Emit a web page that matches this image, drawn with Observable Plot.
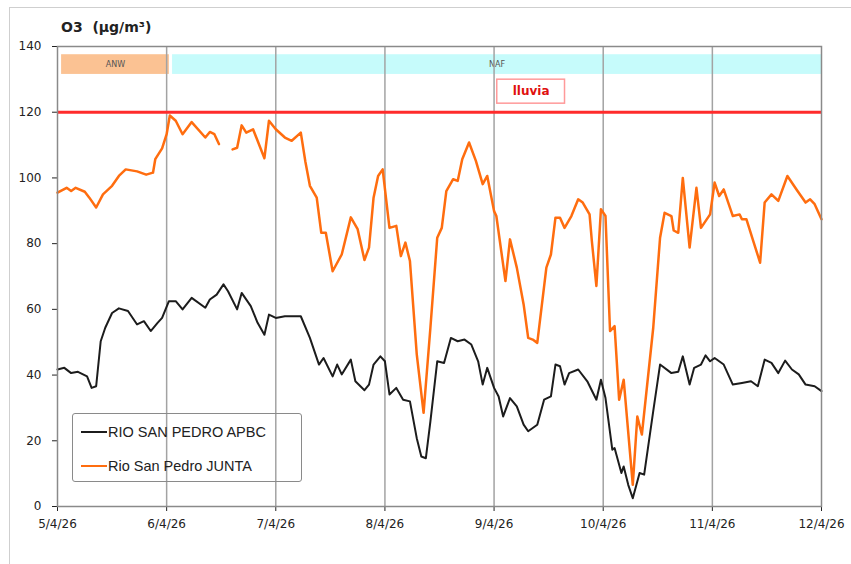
<!DOCTYPE html>
<html>
<head>
<meta charset="utf-8">
<script src="https://cdn.jsdelivr.net/npm/d3@7"></script>
<script src="https://cdn.jsdelivr.net/npm/@observablehq/plot@0.6"></script>
<style>
body{margin:0;background:#fff;}
#wrap{position:relative;width:851px;height:564px;overflow:hidden;font-family:"DejaVu Sans",Verdana,sans-serif;background:#fff;}
#border{position:absolute;left:9px;top:7px;width:870px;height:580px;border:1.5px solid #cfcfcf;}
#title{position:absolute;left:61px;top:19px;font-weight:bold;font-size:14px;color:#222;white-space:pre;}
#chart{position:absolute;left:0;top:0;}
#legend{position:absolute;left:72px;top:413px;width:228px;height:67px;border:1.5px solid #8a8a8a;border-radius:3px;font-family:"Liberation Sans",Arial,sans-serif;font-size:14.5px;color:#222;}
.row{position:absolute;left:8px;height:20px;display:flex;align-items:center;}
.sw{display:inline-block;width:26px;height:0;margin-right:1px;}
</style>
</head>
<body>
<div id="wrap">
  <div id="border"></div>
  <div id="chart"></div>
  <div id="title"></div>
  <div id="legend"></div>
</div>
<script>
// ---- data ----
const startDate = Date.UTC(2026, 3, 5); // 5/4/26
const seriesNames = ["RIO SAN PEDRO APBC", "Rio San Pedro JUNTA"];
const seriesColors = ["#1c1c1c", "#ff6d0f"];
const titleText = "O3  (µg/m³)";
const xTickLabels = ["5/4/26","6/4/26","7/4/26","8/4/26","9/4/26","10/4/26","11/4/26","12/4/26"];
const yTicks = [0,20,40,60,80,100,120,140];
const limitValue = 120;

// hours since 5/4/26 00:00
const apbcHours = [0,1.5,3,4.5,6.5,7.5,8.5,9.5,10.5,12,13.5,15.5,17.5,19,20.5,22,23,24.5,26,27.5,29.5,32.5,33.5,35,36.5,37.5,39.5,40.5,42.5,44,45.5,46.5,48,50,53.5,55.5,57.5,58.5,60.5,61.5,62.5,64.5,65.5,67.5,68.5,69.5,71,72,73,74.5,76,77.5,79,80,81,82,83.5,85,86.5,88,89.5,91,92.5,93.5,94.5,96,97,98,99.5,101,102.5,103.5,105.5,107,108.5,109.5,110.5,111.5,112.5,114.5,116.5,118.5,119.5,120.5,122,122.5,124,124.5,125.5,126.5,128,129,131,132.5,135,136.5,137.5,139,140,141.5,142.5,143.5,144.5,146.5,148.5,150.5,152.5,154,155.5,157,158.5,160,161.5,163,164.5,166.5,168];
const apbcValues = [41.7,42.2,40.6,41,39.6,36.1,36.6,50.3,54.4,58.9,60.3,59.5,55.4,56.4,53.4,55.9,57.4,62.5,62.5,60,63.5,60.5,63,64.5,67.6,65.5,60,65,61,55.9,52.3,58.4,57.4,57.9,57.9,51.3,43.2,45.2,39.6,43.2,40.2,44.7,38.1,35.4,37.1,43.2,45.7,44.2,34.1,36.1,32.5,32,20.8,15.2,14.7,25.9,44.2,43.7,51.3,50.3,50.8,49.3,44.2,37.1,42.2,36.1,33.5,27.4,33,30.5,24.9,22.9,24.9,32.5,33.5,43.2,42.7,37.1,40.6,41.7,38.1,32.5,38.6,33,17.3,17.8,10.2,12.2,6.6,2.5,10.2,9.7,29,43.2,40.6,41,45.7,37.1,42.2,43.2,46,44.2,45.2,43.2,37.1,37.6,38.1,36.6,44.7,43.7,40.6,44.4,41.7,40.2,37.1,36.6,35.1];

const juntaHours = [0,2,3,4,6,7,8.5,10,12,13.5,15,17.5,19.5,21,21.5,23,24,24.7,26,27.5,29.5,32.5,33.5,34.5,35.5,37,38.5,39.5,40.5,41.5,43,44,45.5,46.5,48,50,51.5,53.5,54.5,55.5,57,58,59,60.5,62.5,64.5,66,67.5,68.5,69.5,70.5,71.5,73,74.5,75.5,76.5,77.5,79,80.5,82,83.5,84.5,85.5,87,88,89,90.5,92,93.5,94.5,96,96.5,98.5,99.5,101,102.5,103.5,104.5,105.5,107.5,108.5,109.5,110.5,111.5,113,114.5,115.5,117,117.5,118.5,119.5,120.5,121.5,122.5,123.5,124.5,126.5,127.5,128.5,131,132.5,133.5,135,135.5,136.5,137.5,139,140.5,141.5,143.5,144.5,145.5,146.5,148.5,150,150.5,151.5,153,154.5,155.5,157,158.5,160.5,162.5,164.5,165.5,166.5,168];
const juntaValues = [95.5,97,96,97,95.8,94,91,95,97.6,100.6,102.6,102,101,101.6,105.7,109,113.3,119,117.4,113.3,117,112.3,114,113.3,110.3,NaN,108.7,109.2,116,113.8,114.8,111.3,106,117.4,114.8,112.3,111.3,113.8,105,97.6,94,83.3,83.3,71.6,76.7,88,84.4,75,78.8,94,100.6,102.6,84.8,85.4,76.2,80.3,74.7,46.3,28.5,54.4,81.8,84.8,96,99.6,99.1,105.7,110.8,105.2,98.1,100.6,89.9,88.4,68.6,81.3,72.7,61.5,51.3,50.8,49.8,72.7,76.7,87.9,87.9,84.8,88.4,93.5,92.5,88.9,80.8,67.1,90.5,88.4,53.4,54.9,32.5,38.6,6.6,27.4,21.9,54.4,81.8,89.4,88.4,84,83.3,100,78.8,97,84.8,88.9,98.6,94.5,96.5,88.4,88.9,87.4,87.4,80.8,74.2,92.5,95,93,100.6,96.5,92.5,93.5,92,87.4];

// air-mass bands and rain annotation (hours since start)
const bandNames = ["ANW", "NAF"];
const bandStart = [0.9, 25.3];
const bandEnd = [24.6, 168];
const bandColors = ["#fbc293", "#c6fbfb"];
const rainLabel = ["lluvia"];
const rainStart = [96.7];
const rainEnd = [111.6];

// ---- build ----
const t = h => new Date(startDate + h * 3600e3);
const dayDates = xTickLabels.map((_, i) => t(i * 24));
const apbc = apbcHours.map((h, i) => ({date: t(h), value: apbcValues[i]}));
const junta = juntaHours.map((h, i) => ({date: t(h), value: juntaValues[i]}));
const bands = bandNames.map((n, i) => ({name: n, x1: t(bandStart[i]), x2: t(bandEnd[i]), xm: t((bandStart[i] + bandEnd[i]) / 2), color: bandColors[i]}));
const rain = rainLabel.map((n, i) => ({name: n, x1: t(rainStart[i]), x2: t(rainEnd[i]), xm: t((rainStart[i] + rainEnd[i]) / 2)}));

const chart = Plot.plot({
  width: 851,
  height: 564,
  marginLeft: 57,
  marginRight: 30,
  marginTop: 46,
  marginBottom: 58,
  style: {fontFamily: "DejaVu Sans, Verdana, sans-serif", fontSize: "12px", color: "#222", background: "transparent", overflow: "visible"},
  x: {type: "utc", domain: [t(0), t(168)], ticks: dayDates, tickFormat: (d, i) => xTickLabels[i], tickSize: 5, tickPadding: 8, label: null},
  y: {domain: [0, 140], ticks: yTicks, tickSize: 5, tickPadding: 11, label: null},
  marks: [
    Plot.rect(bands, {x1: "x1", x2: "x2", y1: 131.5, y2: 137.5, fill: "color"}),
    Plot.text(bands, {x: "xm", y: 134.5, text: "name", fontSize: 8, fill: "#555"}),
    Plot.ruleX(dayDates.slice(1, -1), {stroke: "#a3a3a3", strokeWidth: 1.5}),
    Plot.ruleY([limitValue], {stroke: "#ff2b2b", strokeWidth: 3}),
    Plot.rect(rain, {x1: "x1", x2: "x2", y1: 122.6, y2: 129.9, fill: "white", stroke: "#ff9a9a", strokeWidth: 1.5}),
    Plot.text(rain, {x: "xm", y: 126.3, text: "name", fontSize: 12, fontWeight: "bold", fill: "#e01010"}),
    Plot.line(apbc, {x: "date", y: "value", stroke: seriesColors[0], strokeWidth: 2}),
    Plot.line(junta, {x: "date", y: "value", stroke: seriesColors[1], strokeWidth: 2.5}),
    Plot.frame({stroke: "#8a8a8a", strokeWidth: 1.5})
  ]
});
document.getElementById("chart").appendChild(chart);
document.getElementById("title").textContent = titleText;

const legend = document.getElementById("legend");
seriesNames.forEach((n, i) => {
  const row = document.createElement("div");
  row.className = "row";
  row.style.top = (i === 0 ? 8 : 42) + "px";
  const sw = document.createElement("span");
  sw.className = "sw";
  sw.style.borderTop = "2px solid " + seriesColors[i];
  const tx = document.createElement("span");
  tx.textContent = n;
  row.appendChild(sw); row.appendChild(tx);
  legend.appendChild(row);
});
</script>
</body>
</html>
